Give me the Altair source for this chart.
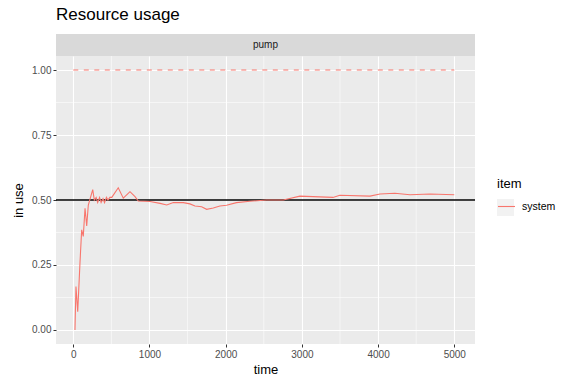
import altair as alt
import pandas as pd

# ---- data ----
times = [22, 35, 58, 88, 110, 131, 154, 176, 197, 255, 276, 300, 320, 345, 365, 390,
         410, 435, 455, 480, 505, 590, 656, 744, 810, 853, 1008, 1139, 1226, 1313,
         1444, 1531, 1597, 1684, 1750, 1837, 1924, 2011, 2142, 2317, 2535, 2756,
         2974, 3408, 3497, 3894, 4025, 4220, 4419, 4682, 5000]
usage = [0.0, 0.167, 0.07, 0.26, 0.385, 0.36, 0.468, 0.40, 0.48, 0.54, 0.50, 0.51,
         0.49, 0.51, 0.49, 0.505, 0.49, 0.51, 0.50, 0.51, 0.51, 0.547, 0.507, 0.532,
         0.513, 0.496, 0.494, 0.487, 0.481, 0.49, 0.49, 0.485, 0.477, 0.474, 0.464,
         0.469, 0.477, 0.48, 0.49, 0.495, 0.50, 0.50, 0.515, 0.51, 0.518, 0.515,
         0.523, 0.526, 0.52, 0.523, 0.52]
item = "system"
resource = "pump"
capacity = [1.0]
capacity_span = [0, 5000]
reference_level = [0.5]
x_ticks = [0, 1000, 2000, 3000, 4000, 5000]
y_ticks = [0.0, 0.25, 0.5, 0.75, 1.0]
x_minor = [500, 1500, 2500, 3500, 4500]
y_minor = [0.125, 0.375, 0.625, 0.875]

RED = "#F8766D"
FONT = "Liberation Sans"
W, H = 419, 288
x_dom = [-227, 5272]
y_dom = [-0.054, 1.054]

df = pd.DataFrame({"time": times, "usage": usage, "item": [item] * len(times)})
cap_df = pd.DataFrame({"time": [capacity_span[0]], "end": [capacity_span[1]], "usage": capacity})
ref_df = pd.DataFrame({"usage": reference_level})
mx_df = pd.DataFrame({"time": x_minor})
my_df = pd.DataFrame({"usage": y_minor})
strip_df = pd.DataFrame({"label": [resource]})

xs = alt.Scale(domain=x_dom, nice=False, zero=False)
ys = alt.Scale(domain=y_dom, nice=False, zero=False)
x_axis = alt.Axis(values=x_ticks, format="d")
y_axis = alt.Axis(values=y_ticks, format=".2f")


def X(field="time:Q"):
    return alt.X(field, scale=xs, title="time", axis=x_axis)


def Y(field="usage:Q"):
    return alt.Y(field, scale=ys, title="in use", axis=y_axis)


line = alt.Chart(df).mark_line(strokeWidth=1.1).encode(
    x=X(), y=Y(),
    color=alt.Color("item:N", scale=alt.Scale(range=[RED]),
                    legend=alt.Legend(title="item", orient="none",
                                      legendX=441, legendY=122,
                                      symbolType="stroke", symbolSize=289,
                                      symbolStrokeWidth=1.1,
                                      titleFontSize=13, titleFont=FONT,
                                      titleFontWeight="normal", titleColor="black",
                                      titlePadding=6,
                                      labelFontSize=10.5, labelFont=FONT,
                                      labelColor="black", labelOffset=6)),
)

minor_x = alt.Chart(mx_df).mark_rule(color="white", strokeWidth=0.55).encode(x=X())
minor_y = alt.Chart(my_df).mark_rule(color="white", strokeWidth=0.55).encode(y=Y())

cap = alt.Chart(cap_df).mark_rule(color=RED, strokeDash=[5, 5.5], strokeWidth=1.1).encode(
    x=X(), x2="end:Q", y=Y())

ref = alt.Chart(ref_df).mark_rule(color="black", strokeWidth=1.3).encode(y=Y())

strip_bg = alt.Chart(strip_df).mark_rect(color="#D9D9D9", clip=False).encode(
    x=alt.value(0), x2=alt.value(W), y=alt.value(-22), y2=alt.value(0))
strip_txt = alt.Chart(strip_df).mark_text(font=FONT, fontSize=10, color="#1A1A1A",
                                          baseline="middle", clip=False).encode(
    text="label:N", x=alt.value(W / 2), y=alt.value(-11))

key_bg = alt.Chart(strip_df).mark_rect(color="#F2F2F2", clip=False).encode(
    x=alt.value(441), x2=alt.value(458), y=alt.value(143), y2=alt.value(160))

chart = alt.layer(minor_x, minor_y, strip_bg, strip_txt, key_bg, cap, ref, line).properties(
    width=W, height=H,
    title=alt.TitleParams("Resource usage", anchor="start", frame="group",
                          fontSize=17, font=FONT, fontWeight="normal",
                          color="black", offset=10),
    padding={"left": 56, "top": 56, "right": 101, "bottom": 40},
    autosize=alt.AutoSizeParams(type="none"),
    background="white",
).configure_view(fill="#EBEBEB", stroke=None).configure_axis(
    gridColor="white", gridWidth=1.1, domain=False,
    tickColor="#333333", tickSize=3, tickWidth=1,
    labelColor="#4D4D4D", labelFont=FONT, labelFontSize=10, labelPadding=2,
    titleFont=FONT, titleFontSize=13, titleFontWeight="normal", titleColor="black",
).configure_axisX(titlePadding=4).configure_axisY(titlePadding=6)

chart.save("out.html", embed_options={"renderer": "svg", "actions": False})
